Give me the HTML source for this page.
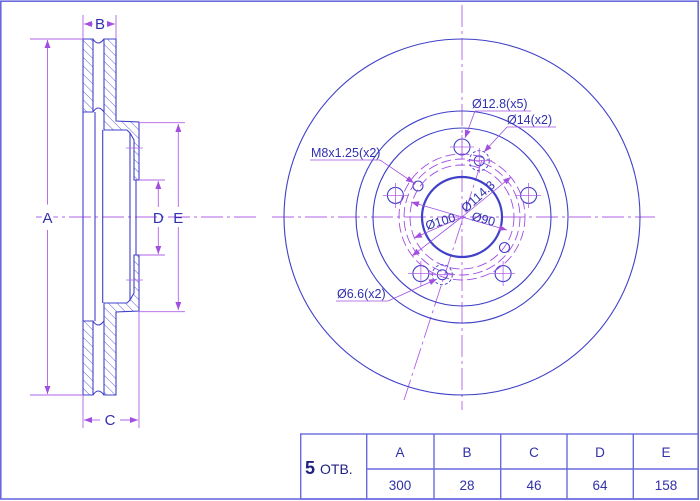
<!DOCTYPE html>
<html><head><meta charset="utf-8"><style>
html,body{margin:0;padding:0;background:#fff;}
svg{display:block;}
text{font-family:"Liberation Sans",sans-serif;}
</style></head><body>
<svg width="700" height="501" viewBox="0 0 700 501" xmlns="http://www.w3.org/2000/svg">
<defs>
<pattern id="h" patternUnits="userSpaceOnUse" width="6" height="6" patternTransform="rotate(-45)">
<line x1="0" y1="0" x2="0" y2="6" stroke="#4a4ad0" stroke-width="0.9"/>
</pattern>
<marker id="a" markerWidth="8" markerHeight="6" refX="8" refY="3" orient="auto" markerUnits="userSpaceOnUse"><path d="M0,0 L8,3 L0,6 z" fill="#a24ee0"/></marker>
</defs>
<rect x="0.8" y="1.2" width="697.4" height="497.8" fill="none" stroke="#6a6ae0" stroke-width="1.6"/>

<g stroke="#b060e8" stroke-width="0.9" fill="none" stroke-dasharray="22,4,3,4">
<line x1="36" y1="217" x2="258" y2="217"/>
<line x1="272" y1="217" x2="655" y2="217"/>
<line x1="462" y1="5" x2="462" y2="410"/>
<line x1="482" y1="160" x2="404" y2="400"/>
</g>

<g stroke="#4040c8" stroke-width="1.1" fill="url(#h)">
<path d="M83,39 L93,39 L93,112 L83,112 Z"/>
<path d="M104,39 L116,39 L116,121 L139,122 L139,180 L134,180 L134,140 L130,133 L127,130 L104,130 Z"/>
<path d="M83,321 L93,321 L93,395 L83,395 Z"/>
<path d="M104,395 L116,395 L116,312 L139,311 L139,255 L134,255 L134,293 L130,300 L127,303 L104,303 Z"/>
</g>
<g stroke="#4040c8" stroke-width="1.1" fill="none">
<path d="M93,39 Q98,47 104,39"/>
<path d="M93,395 Q98,387 104,395"/>
<path d="M93,112 Q98,104 104,112"/>
<path d="M93,321 Q98,329 104,321"/>
<line x1="83" y1="112" x2="83" y2="321"/>
<line x1="95" y1="112" x2="95" y2="321"/>
<line x1="102.7" y1="130" x2="102.7" y2="303"/>
<line x1="130" y1="133" x2="130" y2="300"/>
<line x1="136" y1="180" x2="136" y2="255"/>
</g>
<g stroke="#b060e8" stroke-width="0.8">
<line x1="126" y1="148" x2="143" y2="148"/>
<line x1="126" y1="280" x2="143" y2="280"/>
</g>

<g stroke="#b060e8" stroke-width="0.9" fill="none">
<line x1="30" y1="39" x2="83" y2="39"/>
<line x1="30" y1="395" x2="83" y2="395"/>
<line x1="47.5" y1="205" x2="47.5" y2="40" marker-end="url(#a)"/>
<line x1="47.5" y1="230" x2="47.5" y2="394" marker-end="url(#a)"/>
<line x1="83" y1="15" x2="83" y2="39"/>
<line x1="116" y1="15" x2="116" y2="39"/>
<line x1="93" y1="24" x2="84" y2="24" marker-end="url(#a)"/>
<line x1="107" y1="24" x2="115" y2="24" marker-end="url(#a)"/>
<line x1="83" y1="395" x2="83" y2="428"/>
<line x1="139" y1="311" x2="139" y2="428"/>
<line x1="100" y1="420" x2="84" y2="420" marker-end="url(#a)"/>
<line x1="120" y1="420" x2="138" y2="420" marker-end="url(#a)"/>
<line x1="139" y1="122.7" x2="185" y2="122.7"/>
<line x1="139" y1="311.7" x2="185" y2="311.7"/>
<line x1="139" y1="180" x2="165" y2="180"/>
<line x1="139" y1="255" x2="165" y2="255"/>
<line x1="158.3" y1="207" x2="158.3" y2="181" marker-end="url(#a)"/>
<line x1="158.3" y1="227" x2="158.3" y2="254" marker-end="url(#a)"/>
<line x1="178.3" y1="207" x2="178.3" y2="124" marker-end="url(#a)"/>
<line x1="178.3" y1="227" x2="178.3" y2="310" marker-end="url(#a)"/>
</g>
<g fill="#3030b0" font-size="15" text-anchor="middle">
<text x="47.5" y="223" style="fill:#fff;stroke:#fff;stroke-width:6">A</text>
<text x="47.5" y="223">A</text>
<text x="100" y="29">B</text>
<text x="110" y="425">C</text>
<text x="158.3" y="223">D</text>
<text x="178.3" y="223">E</text>
</g>

<g stroke="#4040c8" fill="none" stroke-width="1.1">
<circle cx="462" cy="217" r="178"/>
<circle cx="462" cy="217" r="106"/>
<circle cx="462" cy="217" r="89"/>
<circle cx="462" cy="217" r="40" stroke-width="2.2"/>
<circle cx="462" cy="147" r="8"/>
<circle cx="395.4" cy="195.4" r="8"/>
<circle cx="528.6" cy="195.4" r="8"/>
<circle cx="420.9" cy="273.6" r="8"/>
<circle cx="503.1" cy="273.6" r="8"/>
<circle cx="418" cy="186" r="5"/>
<circle cx="504.5" cy="247.5" r="5"/>
</g>
<g stroke="#a050e0" fill="none" stroke-width="0.9" stroke-dasharray="10,4">
<circle cx="462" cy="217" r="52"/>
<circle cx="462" cy="217" r="58"/>
<circle cx="462" cy="217" r="63"/>
<circle cx="479.3" cy="160.7" r="10" stroke-dasharray="3,2" stroke="#4040c8"/>
<circle cx="442.3" cy="274.7" r="10" stroke-dasharray="3,2" stroke="#4040c8"/>
</g>
<g stroke="#4040c8" fill="none" stroke-width="1">
<circle cx="479.3" cy="160.7" r="5"/>
<circle cx="442.3" cy="274.7" r="5"/>
</g>
<g stroke="#b060e8" stroke-width="0.8">
<line x1="450" y1="147" x2="474" y2="147"/><line x1="462" y1="135" x2="462" y2="159"/>
<line x1="383" y1="195.4" x2="408" y2="195.4"/><line x1="395.4" y1="183" x2="395.4" y2="208"/>
<line x1="516" y1="195.4" x2="541" y2="195.4"/><line x1="528.6" y1="183" x2="528.6" y2="208"/>
<line x1="408" y1="273.6" x2="433" y2="273.6"/><line x1="420.9" y1="261" x2="420.9" y2="286"/>
<line x1="490" y1="273.6" x2="515" y2="273.6"/><line x1="503.1" y1="261" x2="503.1" y2="286"/>
<line x1="430" y1="274.7" x2="455" y2="274.7"/><line x1="479.3" y1="148" x2="479.3" y2="173"/><line x1="467" y1="160.7" x2="492" y2="160.7"/>
</g>
<g stroke="#a050e0" stroke-width="0.8" fill="none">
<line x1="462" y1="217" x2="511" y2="177" marker-end="url(#a)"/>
<line x1="462" y1="217" x2="412" y2="256" marker-end="url(#a)"/>
<line x1="462" y1="217" x2="411" y2="202" marker-end="url(#a)"/>
<line x1="462" y1="217" x2="507" y2="230" marker-end="url(#a)"/>
<line x1="462" y1="217" x2="414" y2="238" marker-end="url(#a)"/>
<line x1="310" y1="160" x2="380" y2="160"/><line x1="380" y1="160" x2="414" y2="183" marker-end="url(#a)"/>
<line x1="475" y1="111" x2="531" y2="111"/><line x1="475" y1="111" x2="465" y2="138" marker-end="url(#a)"/>
<line x1="507" y1="127" x2="556" y2="127"/><line x1="507" y1="127" x2="484" y2="152" marker-end="url(#a)"/>
<line x1="336" y1="301" x2="388" y2="301"/><line x1="388" y1="301" x2="437" y2="279" marker-end="url(#a)"/>
</g>
<g fill="#3030b0" font-size="12.5">
<text x="472" y="108">Ø12.8(x5)</text>
<text x="507" y="124">Ø14(x2)</text>
<text x="311" y="157">M8x1.25(x2)</text>
<text x="337" y="298">Ø6.6(x2)</text>
<text x="0" y="0" transform="translate(427,230) rotate(-17)">Ø100</text>
<text x="0" y="0" transform="translate(466,213) rotate(-42)">Ø114.3</text>
<text x="0" y="0" transform="translate(471,220) rotate(15)">Ø90</text>
</g>

<g stroke="#6a6ae0" stroke-width="1.4" fill="none">
<rect x="300.7" y="434" width="397.5" height="65"/>
<line x1="366.7" y1="469" x2="698" y2="469"/>
<line x1="366.7" y1="434" x2="366.7" y2="499"/>
<line x1="434" y1="434" x2="434" y2="499"/>
<line x1="500.7" y1="434" x2="500.7" y2="499"/>
<line x1="567" y1="434" x2="567" y2="499"/>
<line x1="633.3" y1="434" x2="633.3" y2="499"/>
</g>
<g fill="#3030a8" font-size="13.5" text-anchor="middle">
<text x="400" y="457">A</text><text x="467" y="457">B</text><text x="534" y="457">C</text><text x="600" y="457">D</text><text x="666" y="457">E</text>
<text x="400" y="490">300</text><text x="467" y="490">28</text><text x="534" y="490">46</text><text x="600" y="490">64</text><text x="666" y="490">158</text>
</g>
<text x="305" y="474" fill="#202080" font-size="18" font-weight="bold">5 <tspan font-size="14" font-weight="normal">ОТВ.</tspan></text>
</svg>
</body></html>
